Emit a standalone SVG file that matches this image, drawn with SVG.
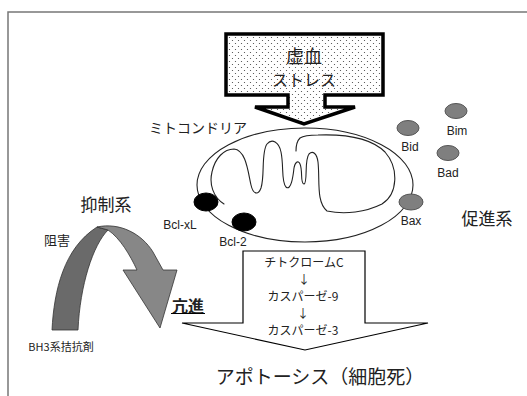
<svg xmlns="http://www.w3.org/2000/svg" width="527" height="396" viewBox="0 0 527 396">
  <defs>
    <pattern id="dots" width="6" height="6" patternUnits="userSpaceOnUse">
      <rect width="6" height="6" fill="#fff"/>
      <circle cx="1.5" cy="1.5" r="0.6" fill="#444"/>
      <circle cx="4.5" cy="4.5" r="0.6" fill="#444"/>
    </pattern>
    <style>
      .jp { font-family: "Noto Sans CJK JP", "Noto Sans", sans-serif; fill: #222; }
      .en { font-family: "Liberation Sans", Arial, sans-serif; fill: #222; font-size: 12px; }
      .pro { fill: #7f7f7f; stroke: #555; stroke-width: 1; }
      .anti { fill: #000; stroke: #000; stroke-width: 1; }
      .membrane { fill: none; stroke: #222; stroke-width: 1.1; stroke-linecap: round; }
    </style>
  </defs>

  <rect width="527" height="396" fill="#fff"/>
  <!-- frame -->
  <path d="M8,396 V12 H527" fill="none" stroke="#777" stroke-width="1.5"/>

  <!-- ischemic stress arrow -->
  <g id="stress">
    <path d="M226,34 H383 V95 H325 V107 H355 L304,124 L255,107 H288 V95 H226 Z" fill="url(#dots)" stroke="#000" stroke-width="3.5" stroke-linejoin="miter"/>
    <text class="jp" x="304" y="63" font-size="18" text-anchor="middle">虚血</text>
    <text class="jp" x="304" y="86" font-size="16" text-anchor="middle">ストレス</text>
  </g>

  <!-- mitochondrion: outer membrane and folded inner membrane -->
  <g id="mitochondria">
    <ellipse class="membrane" cx="305" cy="185" rx="108" ry="57"/>
    <path class="membrane" d="M224,204 C213,197 209,184 212,172 C215,158 224,149 234,149 C246,150 248,172 251,185 C253,194 258,196 261,188 C265,176 261,152 267,144 C272,138 279,142 281,152 C284,166 281,182 286,187 C291,191 293,177 294,168 C295,162 298,160 300,164 C303,171 300,184 304,184 C308,183 304,160 309,154 C313,150 317,154 318,162 C320,180 316,202 327,211 C345,215 366,212 382,204 C398,194 399,168 385,152 C371,138 345,134 318,135 C310,135 303,136 300,138 C297,141 296,146 296,151"/>
    <text class="jp" x="198" y="133" font-size="14" text-anchor="middle">ミトコンドリア</text>
  </g>

  <!-- pro-apoptotic factors -->
  <g id="bid"><ellipse class="pro" cx="408" cy="128" rx="11" ry="7.5"/><text class="en" x="410" y="151" text-anchor="middle">Bid</text></g>
  <g id="bim"><ellipse class="pro" cx="456" cy="111" rx="11" ry="7.5"/><text class="en" x="457" y="135" text-anchor="middle">Bim</text></g>
  <g id="bad"><ellipse class="pro" cx="448" cy="153" rx="11" ry="7.5"/><text class="en" x="448" y="177" text-anchor="middle">Bad</text></g>
  <g id="bax"><ellipse class="pro" cx="411" cy="202" rx="12" ry="8"/><text class="en" x="411" y="225" text-anchor="middle">Bax</text></g>
  <g id="promoters"><text class="jp" x="487" y="225" font-size="17" text-anchor="middle">促進系</text></g>

  <!-- anti-apoptotic factors -->
  <g id="bclxl"><ellipse class="anti" cx="206" cy="202" rx="12" ry="9"/><text class="en" x="180" y="229" text-anchor="middle">Bcl-xL</text></g>
  <g id="bcl2"><ellipse class="anti" cx="244" cy="222" rx="12" ry="9"/><text class="en" x="233" y="246" text-anchor="middle">Bcl-2</text></g>
  <g id="suppressors"><text class="jp" x="106" y="211" font-size="17" text-anchor="middle">抑制系</text></g>

  <!-- BH3 antagonist: curled arrow -->
  <g id="bh3">
    <path d="M52,330 C54,290 64,248 97,227 L108,230 C93,245 80,285 78,330 Z" fill="#6a6a6a" stroke="#333" stroke-width="0.8"/>
    <path d="M97,227 C120,222 142,234 153,252 L163,270 H177 L160,328 L123,270 H137 C130,255 120,238 108,230 Z" fill="#878787" stroke="#333" stroke-width="0.8"/>
    <text class="jp" x="57" y="245" font-size="13" text-anchor="middle">阻害</text>
    <text class="jp" x="61" y="351" font-size="11" text-anchor="middle">BH3系拮抗剤</text>
    <text class="jp" x="188" y="312" font-size="16" font-weight="bold" text-anchor="middle" fill="#000">亢進</text>
    <line x1="171" y1="313.5" x2="205" y2="313.5" stroke="#000" stroke-width="1"/>
  </g>

  <!-- caspase cascade arrow -->
  <g id="cascade">
    <path d="M243,251 H365 V323 H428 L305,350 L182,323 H243 Z" fill="#fff" stroke="#000" stroke-width="1.2"/>
    <text class="jp" x="304" y="267" font-size="12" text-anchor="middle">チトクロームC</text>
    <text class="jp" x="304" y="284" font-size="12" text-anchor="middle">↓</text>
    <text class="jp" x="303" y="301" font-size="12" text-anchor="middle">カスパーゼ-9</text>
    <text class="jp" x="303" y="318" font-size="12" text-anchor="middle">↓</text>
    <text class="jp" x="303" y="335" font-size="12" text-anchor="middle">カスパーゼ-3</text>
  </g>

  <g id="apoptosis">
    <text class="jp" x="320" y="384" font-size="19" text-anchor="middle">アポトーシス（細胞死）</text>
  </g>
</svg>
